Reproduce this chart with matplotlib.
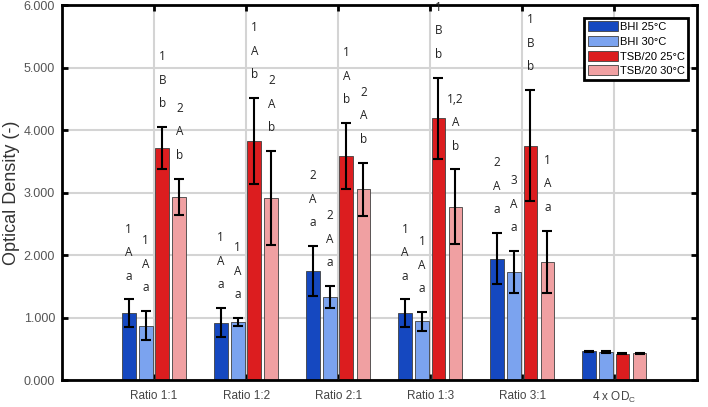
import numpy as np
import matplotlib
matplotlib.use('Agg')
import matplotlib.pyplot as plt

plt.rcParams['font.family'] = ['Liberation Sans', 'DejaVu Sans']
plt.rcParams['mathtext.fontset'] = 'custom'
plt.rcParams['mathtext.rm'] = 'Liberation Sans'

# Data
categories = ['Ratio 1:1', 'Ratio 1:2', 'Ratio 2:1', 'Ratio 1:3', 'Ratio 3:1', r'4 x OD$_{\rm C}$']
series = ['BHI 25°C', 'BHI 30°C', 'TSB/20 25°C', 'TSB/20 30°C']

bhi_25 = [1.07, 0.92, 1.74, 1.07, 1.94, 0.46]
bhi_30 = [0.87, 0.93, 1.33, 0.94, 1.73, 0.45]
tsb_25 = [3.71, 3.82, 3.58, 4.19, 3.75, 0.42]
tsb_30 = [2.93, 2.91, 3.05, 2.77, 1.89, 0.43]

bhi_25_err = [0.22, 0.23, 0.40, 0.22, 0.41, 0.01]
bhi_30_err = [0.23, 0.06, 0.17, 0.15, 0.33, 0.01]
tsb_25_err = [0.34, 0.69, 0.53, 0.65, 0.89, 0.01]
tsb_30_err = [0.29, 0.75, 0.43, 0.60, 0.50, 0.01]

# significance letters (number / upper / lower), none for OD_C
bhi_25_sig = ['1\nA\na', '1\nA\na', '2\nA\na', '1\nA\na', '2\nA\na', '']
bhi_30_sig = ['1\nA\na', '1\nA\na', '2\nA\na', '1\nA\na', '3\nA\na', '']
tsb_25_sig = ['1\nB\nb', '1\nA\nb', '1\nA\nb', '1\nB\nb', '1\nB\nb', '']
tsb_30_sig = ['2\nA\nb', '2\nA\nb', '2\nA\nb', '1,2\nA\nb', '1\nA\na', '']

colors = ['#1548c0', '#7ba3ef', '#dc1d1f', '#f0a0a2']

values = [bhi_25, bhi_30, tsb_25, tsb_30]
errors = [bhi_25_err, bhi_30_err, tsb_25_err, tsb_30_err]
sigs = [bhi_25_sig, bhi_30_sig, tsb_25_sig, tsb_30_sig]

fig = plt.figure(figsize=(7.08, 4.07), dpi=100)
ax = fig.add_axes([0.0876, 0.0663, 0.8969, 0.9214])

x = np.arange(1, len(categories) + 1)
width = 0.15
offsets = [-0.275, -0.09, 0.09, 0.275]

for vals, errs, sig, col, off, name in zip(values, errors, sigs, colors, offsets, series):
    ax.bar(x + off, vals, width, color=col, edgecolor='#404040', linewidth=0.6,
           label=name, zorder=2)
    ax.errorbar(x + off, vals, yerr=errs, fmt='none', ecolor='black',
                elinewidth=1.5, capsize=3.5, capthick=1.5, zorder=3)
    for xi, v, e, s in zip(x + off, vals, errs, sig):
        if s:
            ax.text(xi, v + e + 0.27, s, ha='center', va='bottom', fontsize=8.5,
                    family=['Open Sans', 'DejaVu Sans'], linespacing=2.05, color='#222222')

ax.set_xlim(0, 6.9)
ax.set_ylim(0, 6)
ax.set_xticks(x)
ax.set_xticklabels(categories, fontsize=8.5, color='#444444')
ax.set_yticks(np.arange(0, 6.1, 1))
ax.set_yticklabels([f'{v:.3f}' for v in np.arange(0, 6.1, 1)], fontsize=9, color='#555555')
ax.set_ylabel('Optical Density (-)', fontsize=13, color='#333333', labelpad=3)

ax.grid(True, color='#d4d4d4', linewidth=1.5, zorder=0)
ax.set_axisbelow(True)
ax.tick_params(direction='in', length=4, width=2, top=True, right=True, pad=5)
ax.tick_params(axis='x', pad=7)
for sp in ax.spines.values():
    sp.set_linewidth(2)

leg = ax.legend(loc='upper right', bbox_to_anchor=(0.995, 0.98), fontsize=8,
                fancybox=False, framealpha=1, edgecolor='black', borderpad=0.3,
                handlelength=2.7, handleheight=1.0, handletextpad=0.2, labelspacing=0.35)
leg.get_frame().set_linewidth(2)

fig.savefig('out.png', dpi=100)
